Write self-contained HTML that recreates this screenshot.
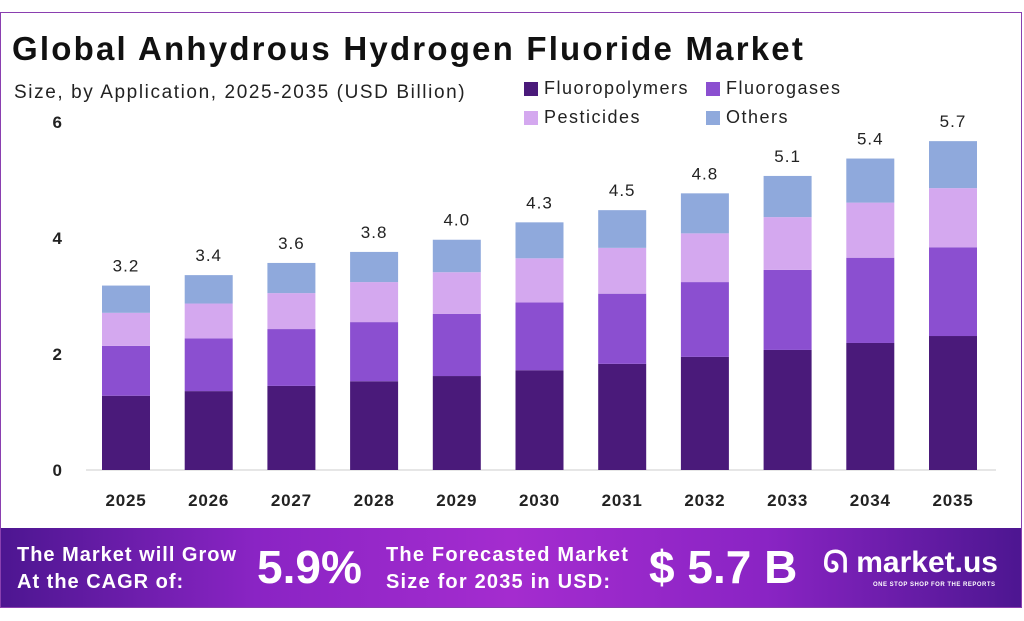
<!DOCTYPE html>
<html><head><meta charset="utf-8"><style>
body{margin:0;width:1024px;height:621px;background:#fff;font-family:"Liberation Sans",sans-serif;overflow:hidden;position:relative}
.frame{position:absolute;left:0;top:12px;width:1022px;height:596px;border:1px solid #8a3fb0;box-sizing:border-box}
h1{position:absolute;left:12px;top:30px;margin:0;font-size:33px;font-weight:bold;color:#111;letter-spacing:2.2px;white-space:nowrap}
.sub{position:absolute;left:14px;top:82px;font-size:19px;color:#222;letter-spacing:1.6px;white-space:nowrap}
.leg{position:absolute;font-size:18px;color:#222;display:flex;align-items:center;letter-spacing:1.5px}
.leg i{display:inline-block;width:14px;height:14px;margin-right:6px}
.footer{position:absolute;left:1px;top:528px;width:1020px;height:79px;background:linear-gradient(90deg,#4d1691 0%,#8a24c4 25%,#a42ccf 50%,#8a24c4 75%,#4d1691 100%);color:#fff;font-weight:bold}
.footer div{position:absolute;white-space:nowrap}
</style></head><body>
<div class="frame"></div>
<h1>Global Anhydrous Hydrogen Fluoride Market</h1>
<div class="sub">Size, by Application, 2025-2035 (USD Billion)</div>
<div class="leg" style="left:524px;top:78px"><i style="background:#4a1a7a"></i>Fluoropolymers</div>
<div class="leg" style="left:706px;top:78px"><i style="background:#8b4fd0"></i>Fluorogases</div>
<div class="leg" style="left:524px;top:107px"><i style="background:#d4a8ef"></i>Pesticides</div>
<div class="leg" style="left:706px;top:107px"><i style="background:#8fa9dc"></i>Others</div>
<svg id="chart" width="1024" height="621" style="position:absolute;left:0;top:0"></svg>
<div class="footer">
<div style="left:16px;top:14px;font-size:20px;line-height:27px;letter-spacing:1px">The Market will Grow<br>At the CAGR of:</div>
<div style="left:256px;top:12px;font-size:46px">5.9%</div>
<div style="left:385px;top:14px;font-size:20px;line-height:27px;letter-spacing:1.2px">The Forecasted Market<br>Size for 2035 in USD:</div>
<div style="left:648px;top:12px;font-size:46px">$ 5.7 B</div>
<div style="left:822px;top:18px;font-size:30px">ᘏ market.us</div>
<div style="left:872px;top:54px;font-size:6px;letter-spacing:0.5px">ONE STOP SHOP FOR THE REPORTS</div>
</div>
<script>
const years=["2025","2026","2027","2028","2029","2030","2031","2032","2033","2034","2035"];
const fluoropolymers=[1.28,1.36,1.45,1.53,1.62,1.72,1.83,1.95,2.07,2.19,2.31];
const fluorogases=[0.86,0.91,0.98,1.02,1.07,1.17,1.21,1.29,1.38,1.47,1.53];
const pesticides=[0.57,0.60,0.62,0.69,0.72,0.76,0.79,0.84,0.91,0.95,1.02];
const others=[0.47,0.49,0.52,0.52,0.56,0.62,0.65,0.69,0.71,0.76,0.81];
const totalLabels=["3.2","3.4","3.6","3.8","4.0","4.3","4.5","4.8","5.1","5.4","5.7"];
const yTicks=[0,2,4,6];
const svg=document.getElementById('chart');const NS="http://www.w3.org/2000/svg";
const y=v=>470-v*58, x=i=>126+i*82.7;
function mk(t,a,txt){const e=document.createElementNS(NS,t);for(const k in a)e.setAttribute(k,a[k]);if(txt!=null)e.textContent=txt;svg.appendChild(e);return e;}
const ax=mk('line',{x1:86,x2:996,y1:y(0),y2:y(0),stroke:'#ccc'});


yTicks.forEach(t=>{const e=mk('text',{x:62,y:y(t)+6,'text-anchor':'end','font-size':17,'font-weight':'bold',fill:'#222'},t);

});
const series=[[fluoropolymers,'#4a1a7a','fluoropolymers'],[fluorogases,'#8b4fd0','fluorogases'],[pesticides,'#d4a8ef','pesticides'],[others,'#8fa9dc','others']];
years.forEach((yr,i)=>{let base=0;
series.forEach(([arr,c,n])=>{const v=arr[i];const r=mk('rect',{x:x(i)-24,width:48,y:y(base+v),height:v*58,fill:c});

base+=v;});
const l=mk('text',{x:x(i),y:y(base)-14,'text-anchor':'middle','font-size':17,fill:'#222','letter-spacing':1},totalLabels[i]);


const t=mk('text',{x:x(i),y:506,'text-anchor':'middle','font-size':17,'font-weight':'bold',fill:'#222','letter-spacing':0.8},yr);

});
</script>
</body></html>
